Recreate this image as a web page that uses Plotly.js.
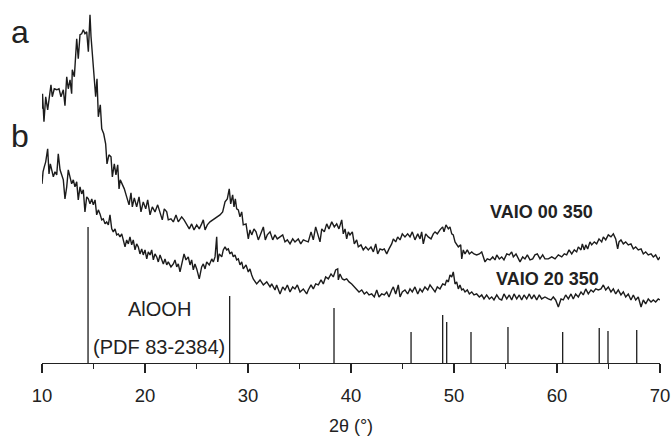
<!DOCTYPE html>
<html>
<head>
<meta charset="utf-8">
<script src="https://cdn.plot.ly/plotly-3.0.1.min.js"></script>
<style>html,body{margin:0;padding:0;background:#fff;}#chart{width:672px;height:436px;}</style>
</head>
<body>
<div id="chart"></div>
<script>
// 2θ (degrees) and intensity (arbitrary units, offset stacked) for sample a: VAIO 00 350
const twoThetaA = [10.00,10.05,10.19,10.36,10.55,10.71,10.87,11.00,11.19,11.43,11.65,11.84,12.07,12.23,12.40,12.55,12.72,12.88,12.94,13.14,13.27,13.37,13.52,13.69,13.85,14.01,14.17,14.34,14.50,14.66,14.76,14.88,15.08,15.21,15.34,15.47,15.66,15.80,15.99,16.18,16.31,16.50,16.70,16.83,17.02,17.18,17.35,17.48,17.60,17.80,17.99,18.22,18.45,18.64,18.77,18.96,19.19,19.42,19.61,19.83,20.07,20.26,20.49,20.71,20.97,21.23,21.46,21.68,21.87,22.11,22.26,22.52,22.75,23.01,23.23,23.56,23.79,24.05,24.30,24.53,24.76,25.02,25.27,25.50,25.66,25.83,26.05,26.31,26.57,26.80,27.02,27.28,27.54,27.77,27.99,28.18,28.32,28.51,28.64,28.77,28.90,29.06,29.22,29.39,29.54,29.81,30.03,30.19,30.36,30.58,30.78,31.00,31.23,31.49,31.68,31.87,32.14,32.40,32.62,32.84,33.11,33.37,33.59,33.82,34.08,34.34,34.56,34.88,35.12,35.37,35.60,35.85,36.12,36.34,36.57,36.83,36.99,37.16,37.41,37.64,37.86,38.13,38.38,38.61,38.83,39.10,39.25,39.42,39.58,39.74,39.90,40.13,40.32,40.55,40.71,40.97,41.19,41.43,41.68,41.94,42.17,42.40,42.59,42.82,43.04,43.23,43.47,43.69,43.95,44.11,44.34,44.53,44.76,44.98,45.24,45.50,45.73,45.95,46.21,46.48,46.70,46.86,47.02,47.25,47.50,47.77,47.99,48.16,48.38,48.64,48.90,49.03,49.22,49.45,49.61,49.78,49.93,50.10,50.26,50.42,50.65,50.75,50.90,51.07,51.29,51.49,51.72,51.94,52.20,52.46,52.69,52.85,53.01,53.23,53.50,53.76,53.98,54.15,54.40,54.63,54.85,55.12,55.37,55.60,55.76,56.02,56.24,56.41,56.67,56.89,57.12,57.38,57.64,57.86,58.09,58.35,58.61,58.83,59.16,59.49,59.81,60.13,60.46,60.71,60.94,61.17,61.43,61.68,61.91,62.07,62.33,62.46,62.65,62.79,62.98,63.20,63.37,63.62,63.85,64.08,64.34,64.50,64.73,64.98,65.24,65.47,65.70,65.89,66.02,66.21,66.44,66.67,66.92,67.18,67.41,67.64,67.89,68.16,68.38,68.61,68.86,69.13,69.35,69.58,69.83,70.00];
const intensityA = [254,269,241,266,253,269,278,266,274,273,274,266,273,257,286,274,283,269,293,286,306,324,304,328,329,333,329,331,311,348,326,309,283,266,284,246,258,234,229,219,199,208,206,186,199,188,198,174,183,179,174,166,158,170,156,165,156,166,151,161,154,163,148,156,151,158,149,143,154,151,143,144,141,148,141,146,143,138,134,139,133,138,134,139,143,133,138,141,143,144,146,148,151,161,164,174,159,168,156,164,154,153,146,151,138,139,124,133,128,134,131,123,129,136,123,128,131,123,128,124,126,128,121,123,119,124,121,124,119,123,122,121,131,123,136,128,121,134,131,139,134,141,136,139,134,143,129,134,124,131,128,131,119,123,116,118,113,116,113,116,111,119,109,114,113,114,109,114,119,124,121,126,123,129,126,129,126,131,123,129,124,131,119,129,126,124,129,131,129,133,136,131,138,134,136,129,128,121,119,116,118,104,113,109,113,109,111,109,108,109,111,106,101,104,103,106,103,108,104,106,103,109,108,111,106,109,104,101,106,104,108,103,104,108,109,104,108,104,104,106,104,108,106,109,108,113,109,113,111,116,113,119,113,118,114,121,118,121,119,124,121,126,123,128,126,129,124,114,121,123,119,121,118,119,114,116,113,114,109,111,108,109,106,108,103,106];

// sample b: VAIO 20 350
const twoThetaB = [10.00,10.10,10.22,10.36,10.55,10.68,10.81,10.94,11.10,11.26,11.43,11.58,11.75,11.91,12.07,12.23,12.40,12.55,12.72,12.88,13.04,13.20,13.37,13.52,13.69,13.85,14.01,14.17,14.34,14.50,14.66,14.83,14.98,15.15,15.31,15.47,15.63,15.80,15.95,16.12,16.28,16.44,16.60,16.77,16.92,17.09,17.25,17.41,17.57,17.74,17.89,18.06,18.22,18.38,18.54,18.71,18.86,19.03,19.19,19.35,19.51,19.68,19.83,20.00,20.17,20.32,20.49,20.65,20.81,20.97,21.14,21.29,21.46,21.62,21.78,21.94,22.11,22.26,22.52,22.75,22.91,23.08,23.23,23.40,23.56,23.79,23.98,24.20,24.37,24.53,24.69,24.85,25.02,25.27,25.50,25.66,25.83,25.99,26.24,26.48,26.63,26.80,26.96,27.06,27.21,27.45,27.60,27.77,27.93,28.09,28.25,28.42,28.57,28.74,28.90,29.06,29.22,29.39,29.54,29.81,30.03,30.19,30.36,30.51,30.84,31.17,31.49,31.82,32.14,32.30,32.62,32.78,33.11,33.37,33.59,33.82,34.08,34.34,34.56,34.79,35.05,35.37,35.70,35.85,36.12,36.34,36.57,36.83,37.09,37.31,37.54,37.80,38.06,38.28,38.51,38.71,38.77,38.93,39.16,39.35,39.58,39.81,40.07,40.32,40.55,40.78,41.04,41.29,41.52,41.75,42.01,42.26,42.50,42.72,42.98,43.23,43.47,43.69,43.95,44.11,44.34,44.59,44.76,44.98,45.24,45.50,45.73,45.95,46.21,46.48,46.70,46.92,47.18,47.45,47.67,47.93,48.16,48.38,48.64,48.90,49.13,49.29,49.45,49.61,49.78,49.93,50.10,50.26,50.42,50.58,50.75,50.90,51.07,51.29,51.49,51.72,51.94,52.20,52.46,52.69,52.91,53.17,53.43,53.66,53.88,54.15,54.40,54.63,54.85,55.12,55.37,55.60,55.83,56.09,56.34,56.57,56.80,57.06,57.31,57.54,57.77,58.03,58.28,58.51,58.83,59.16,59.42,59.64,59.87,60.13,60.39,60.61,60.84,61.10,61.36,61.58,61.81,62.07,62.33,62.55,62.79,63.04,63.30,63.53,63.76,64.01,64.27,64.50,64.73,64.98,65.24,65.47,65.70,65.95,66.21,66.44,66.67,66.92,67.18,67.41,67.64,67.89,68.16,68.38,68.61,68.86,69.13,69.35,69.58,69.83,70.00];
const intensityB = [179,191,196,201,214,189,199,194,186,191,188,209,193,188,183,164,176,193,186,179,183,176,181,163,176,169,173,151,166,164,159,164,158,163,148,153,149,143,144,139,141,138,148,134,131,134,128,129,126,129,123,116,123,119,126,118,123,113,119,116,109,114,108,113,104,111,108,113,103,109,106,101,108,103,99,104,98,101,96,99,103,96,99,91,98,109,103,106,98,103,93,99,94,84,96,99,94,101,98,104,101,106,126,101,109,106,113,116,113,114,109,111,106,108,103,104,98,101,94,98,91,94,88,84,79,83,78,81,76,79,73,78,69,76,73,78,71,76,74,78,71,74,69,73,78,74,79,78,83,79,86,84,89,86,93,94,83,89,84,83,84,81,79,76,74,71,73,69,71,68,69,66,73,66,69,68,71,66,73,76,69,78,66,71,73,69,74,71,76,69,74,71,76,73,78,74,71,76,74,79,78,83,81,88,86,91,79,81,74,78,73,74,71,73,69,71,68,69,66,68,64,68,64,66,63,68,64,63,69,64,68,63,69,64,68,63,68,64,69,64,68,63,68,64,66,64,63,66,63,56,64,63,68,64,69,64,69,66,71,68,74,69,73,71,74,73,74,78,73,76,71,74,69,73,68,71,66,69,63,68,63,66,56,63,59,64,61,63,61,64,63];

// Reference pattern AlOOH (PDF 83-2384): stick positions and relative heights
const stickPos = [14.47,28.22,38.35,45.83,48.90,49.29,51.65,55.24,60.55,64.10,64.95,67.74];
const stickInt = [136,67,55,31,48,41,31,36,31,35,32,33];

const xTicks = [10,20,30,40,50,60,70];
const seriesLabels = ['VAIO 00 350','VAIO 20 350'];
const panelLabels = ['a','b'];

const lineColor = '#1c1c1c';
const sx = [], sy = [];
stickPos.forEach((p,i)=>{ sx.push(p,p,null); sy.push(0,stickInt[i],null); });

const traces = [
  {x: twoThetaA, y: intensityA, type:'scatter', mode:'lines', line:{color:lineColor, width:1.4}, hoverinfo:'skip'},
  {x: twoThetaB, y: intensityB, type:'scatter', mode:'lines', line:{color:lineColor, width:1.4}, hoverinfo:'skip'},
  {x: sx, y: sy, type:'scatter', mode:'lines', line:{color:lineColor, width:1.3}, hoverinfo:'skip', connectgaps:false}
];

const font = 'Liberation Sans, Arial, Helvetica, sans-serif';
const layout = {
  width: 672, height: 436,
  margin: {l:42, r:12, t:0, b:73.3},
  paper_bgcolor:'#fff', plot_bgcolor:'#fff',
  showlegend:false,
  font:{family:font, color:'#222'},
  xaxis:{
    range:[10,70], tickvals:xTicks, ticktext:xTicks.map(String),
    showgrid:false, zeroline:false, showline:true, linecolor:'#222', linewidth:1.3,
    ticks:'outside', ticklen:9, tickwidth:1.3, tickcolor:'#222',
    ticklabelstandoff:6,
    minor:{dtick:5, ticks:'outside', ticklen:5, tickwidth:1.3, tickcolor:'#222', showgrid:false},
    tickfont:{family:font, size:18.5, color:'#222'},
    automargin:false,
    title:{text:'2θ (°)', font:{family:font, size:18, color:'#222'}, standoff:20}
  },
  yaxis:{range:[0,362.7], visible:false, fixedrange:true},
  annotations:[
    {xref:'paper', yref:'y', x:-0.0356, y:331, text:panelLabels[0], showarrow:false, font:{family:font, size:32, color:'#222'}, xanchor:'center', yanchor:'middle'},
    {xref:'paper', yref:'y', x:-0.0356, y:227, text:panelLabels[1], showarrow:false, font:{family:font, size:32, color:'#222'}, xanchor:'center', yanchor:'middle'},
    {xref:'x', yref:'y', x:58.54, y:151, text:'<b>'+seriesLabels[0]+'</b>', showarrow:false, font:{family:font, size:18, color:'#222'}},
    {xref:'x', yref:'y', x:59.03, y:84, text:'<b>'+seriesLabels[1]+'</b>', showarrow:false, font:{family:font, size:18, color:'#222'}},
    {xref:'x', yref:'y', x:21.36, y:54, text:'AlOOH', showarrow:false, font:{family:font, size:20, color:'#222'}},
    {xref:'x', yref:'y', x:21.33, y:16, text:'(PDF 83-2384)', showarrow:false, font:{family:font, size:20, color:'#222'}}
  ]
};

Plotly.newPlot('chart', traces, layout, {staticPlot:true, displayModeBar:false});
</script>
</body>
</html>
